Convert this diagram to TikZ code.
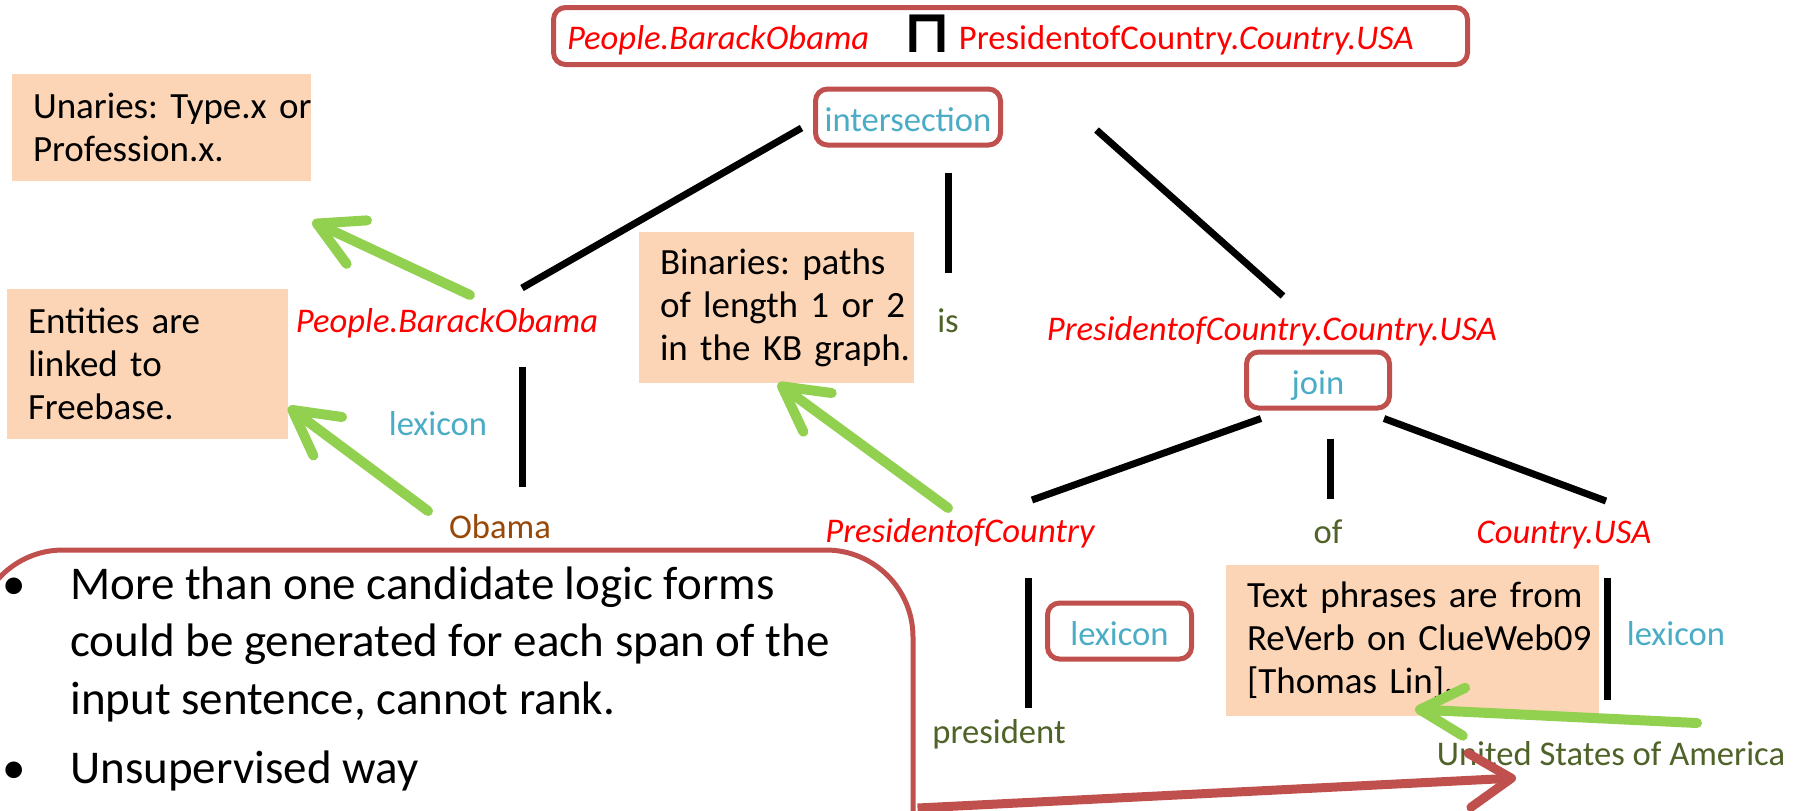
\documentclass[tikz,border=0pt]{standalone}
\usepackage{fontspec}
\setmainfont{Carlito}
\newfontfamily\opfont{DejaVu Sans}
\usetikzlibrary{arrows.meta,calc}

\definecolor{frameRed}{HTML}{C0504D}
\definecolor{termRed}{HTML}{FF0000}
\definecolor{opCyan}{HTML}{4BACC6}
\definecolor{wordGreen}{HTML}{4F6228}
\definecolor{wordBrown}{HTML}{984807}
\definecolor{notePeach}{HTML}{FBD5B5}
\definecolor{pointerGreen}{HTML}{92D050}

\begin{document}
\begin{tikzpicture}[x=0.5pt,y=-0.5pt,
  lbl/.style={anchor=base, inner sep=0pt, font=\fontsize{17.3}{20}\selectfont},
  term/.style={lbl, text=termRed, font=\fontsize{17.3}{20}\selectfont\itshape},
  word/.style={lbl, text=wordGreen},
  opbox/.style={draw=frameRed, line width=2.5pt, rounded corners=6pt, fill=white,
    text=opCyan, font=\fontsize{17.3}{20}\selectfont, text height=14pt, text depth=0pt,
    inner sep=0pt, minimum height=28pt},
  note/.style={fill=notePeach, align=left, inner xsep=10.5pt, inner ysep=0pt,
    font=\fontsize{18.5}{21.5}\selectfont},
  branch/.style={line width=3.5pt},
  pointer/.style={draw=pointerGreen, line width=5pt, line cap=round,
    -{Straight Barb[length=22pt, width=24pt, line cap=round, line join=round]}},
  redpointer/.style={draw=frameRed, line width=4.5pt,
    -{Straight Barb[length=21pt, width=27pt, line cap=round, line join=round]}},
]
\useasboundingbox (0,0) rectangle (1801,810);
\clip (0,0) rectangle (1801,810);
\fill[white] (0,0) rectangle (1801,810);

% composed logical form
\node[draw=frameRed, line width=2.5pt, rounded corners=6pt, minimum width=457pt,
  minimum height=28.5pt, inner sep=0pt, text height=13pt, text depth=0pt,
  font=\fontsize{17.3}{20}\selectfont] (formula) at (1010.5,36)
  {\makebox[443.5pt][l]{\textcolor{termRed}{\itshape People.BarackObama}\hspace{17pt}\raisebox{-1.5pt}{\opfont\bfseries\fontsize{30}{30}\selectfont ⊓}\hspace{4pt}\textcolor{termRed}{PresidentofCountry.\itshape Country.USA}}};

% operators
\node[opbox, minimum width=92.5pt] (inter) at (908,117) {intersection};
\node[opbox, minimum width=71.5pt] (join) at (1318,380) {join};
\node[opbox, minimum width=72pt] (lexB) at (1119.5,631) {lexicon};

% notes
\node[note, text width=128.5pt, minimum height=53.5pt] (unaries) at (161.5,127.5)
  {Unaries:~Type.x~or\\Profession.x.};
\node[note, text width=119.5pt, minimum height=75pt] (entities) at (147.5,364)
  {Entities are\\linked to\\Freebase.};
\node[note, text width=116.5pt, minimum height=75.5pt] (binaries) at (776.5,307.5)
  {Binaries:~paths\\of~length~1~or~2\\in~the~KB~graph.};
\node[note, text width=165.5pt, minimum height=75.5pt] (phrases) at (1412.5,640.5)
  {Text~phrases~are~from\\ReVerb~on~ClueWeb09\\{}[Thomas~Lin].};

% tree labels
\node[term] (lblPeople) at (447,332) {People.BarackObama};
\node[word] (lblIs) at (948,332) {is};
\node[term] (lblPCU) at (1272,340) {PresidentofCountry.Country.USA};
\node[lbl, text=opCyan] (lblLexA) at (438,435) {lexicon};
\node[lbl, text=wordBrown] (lblObama) at (500,538) {Obama};
\node[term] (lblPoC) at (960,542) {PresidentofCountry};
\node[word] (lblOf) at (1328,543) {of};
\node[term] (lblCUSA) at (1564,543) {Country.USA};
\node[lbl, text=opCyan] (lblLexC) at (1676,645) {lexicon};
\node[word] (lblPres) at (999,743) {president};
\node[word] (lblUSA) at (1611,765) {United States of America};

% tree branches
\draw[branch] ($(inter.west)+(-11.5,11)$) -- ($(lblPeople.base)+(75,-44)$);
\draw[branch] ($(inter.south)+(40,25)$) -- ($(lblIs.base)+(0,-59)$);
\draw[branch] ($(inter.east)+(93.5,13)$) -- ($(lblPCU.base)+(11,-44)$);
\draw[branch] ($(lblPeople.base)+(75,35)$) -- ($(lblObama.base)+(22,-51)$);
\draw[branch] ($(join.south)+(-57,8)$) -- ($(lblPoC.base)+(72,-42)$);
\draw[branch] ($(join.south)+(12,28)$) -- ($(lblOf.base)+(2,-44)$);
\draw[branch] ($(join.south)+(66,8)$) -- ($(lblCUSA.base)+(42,-42)$);
\draw[branch] ($(lblPoC.base)+(68,36)$) -- ($(lblPres.base)+(29,-35)$);
\draw[branch] ($(lblCUSA.base)+(43,35)$) -- ($(lblUSA.base)+(-4,-65)$);

% pointers to the notes
\draw[pointer] ($(lblPeople.base)+(23,-37)$) -- ($(unaries.south east)+(1,40)$);
\draw[pointer] ($(lblObama.base)+(-72,-27)$) -- ($(entities.east)+(0,43)$);
\draw[pointer] ($(lblPoC.base)+(-12,-34)$) -- ($(binaries.south)+(1.5,0)$);
\draw[pointer] ($(lblUSA.base)+(86,-42)$) -- ($(phrases.south)+(2.5,-7)$);

% remarks panel
\node[draw=frameRed, line width=2.5pt, rounded corners=43.5pt, minimum width=468.5pt,
  minimum height=225pt, inner sep=0pt] (panel) at (444.5,775) {};
\node[anchor=north west, align=left, inner sep=0pt,
  font=\fontsize{23.5}{28.75}\selectfont] (remarks) at (70,566)
  {\llap{\makebox[34pt][l]{•}}More than one candidate logic forms\\
   could be generated for each span of the\\
   input sentence, cannot rank.\\[5.75pt]
   \llap{\makebox[34pt][l]{•}}Unsupervised way};
\draw[redpointer] ($(panel.east)+(2,33)$) -- ($(lblUSA.base)+(-95,13)$);
\end{tikzpicture}
\end{document}
